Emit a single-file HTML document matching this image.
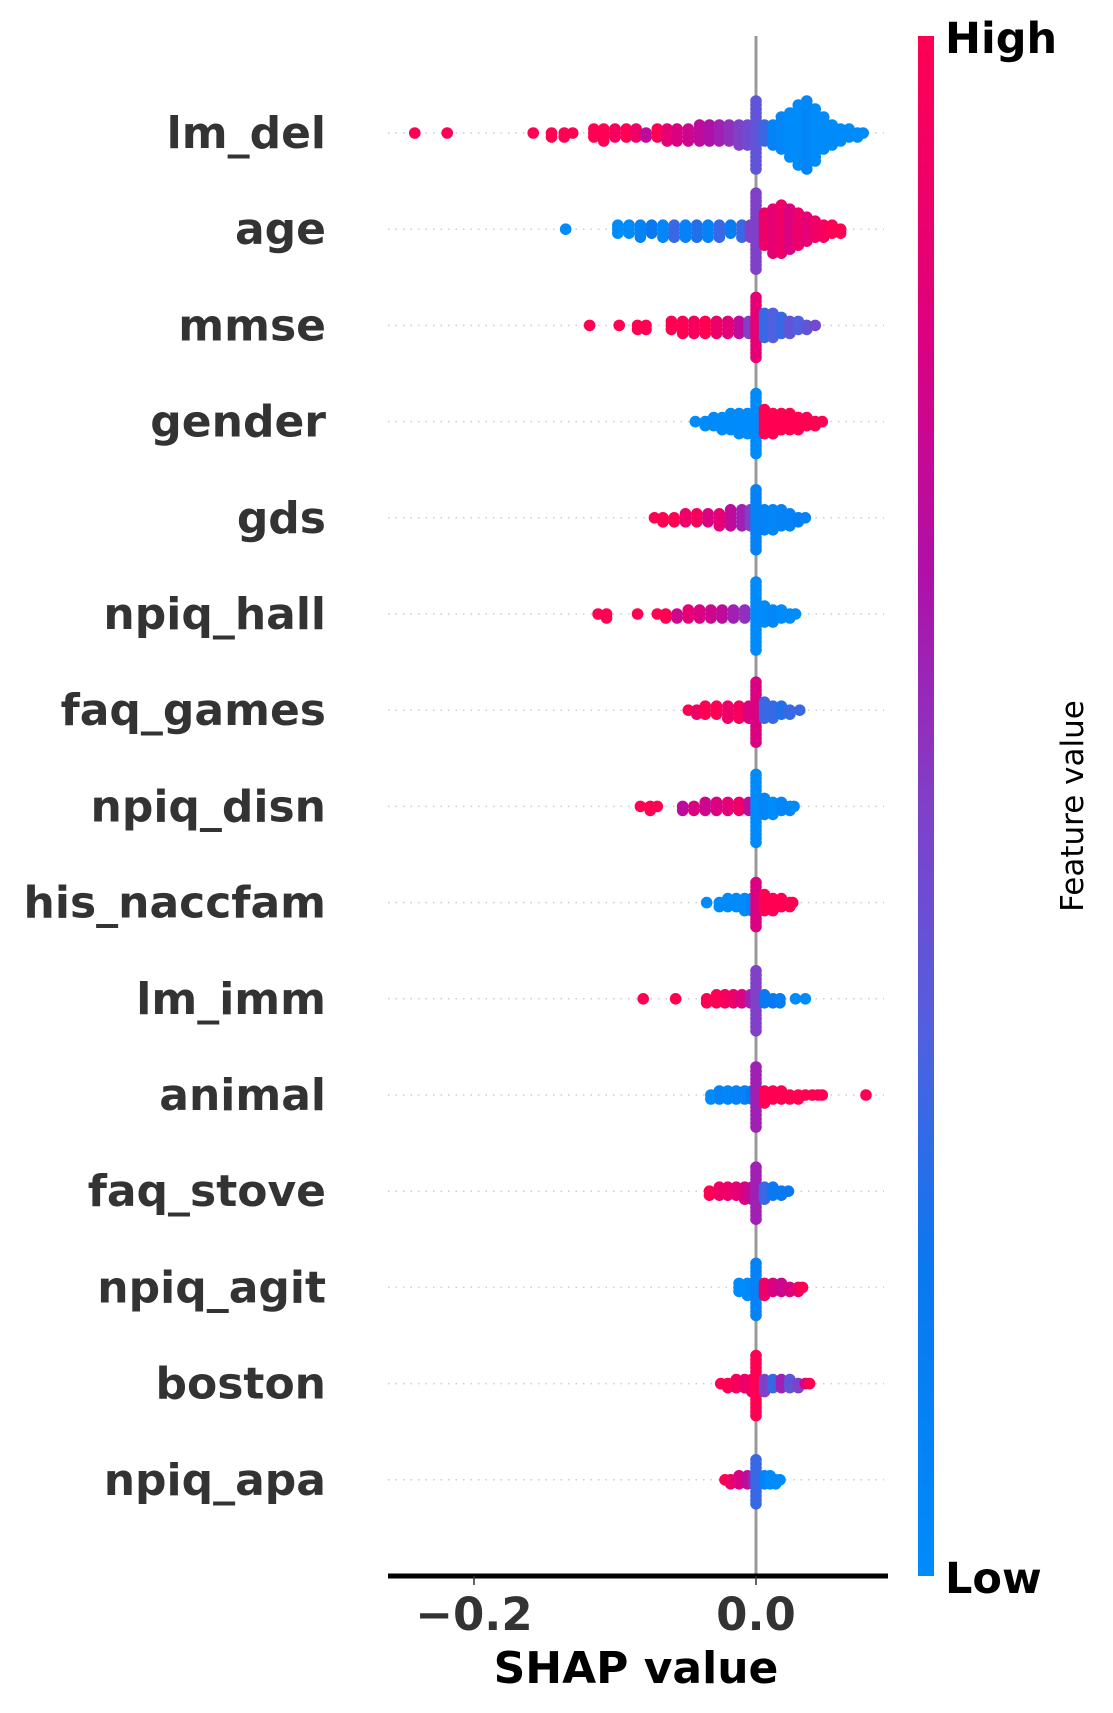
<!DOCTYPE html>
<html><head><meta charset="utf-8"><style>
html,body{margin:0;padding:0;background:#fff;}
svg{display:block;}
text{font-family:"DejaVu Sans","Liberation Sans",sans-serif;}
</style></head><body>
<svg id="chart" width="1113" height="1713" viewBox="0 0 1113 1713" xmlns="http://www.w3.org/2000/svg">
<defs><linearGradient id="cbgrad" x1="0" y1="1" x2="0" y2="0">
<stop offset="0" stop-color="#008bfb"/><stop offset="0.2" stop-color="#0a78f0"/><stop offset="0.35" stop-color="#5060e0"/><stop offset="0.5" stop-color="#8040c8"/><stop offset="0.65" stop-color="#b010a8"/><stop offset="0.82" stop-color="#e0007c"/><stop offset="1" stop-color="#ff0052"/></linearGradient></defs>
<g id="grid"></g>
<line x1="756" y1="36" x2="756" y2="1576" stroke="#999" stroke-width="3"/>
<g id="dots"></g>
<g id="labels"></g>
<line x1="388" y1="1576" x2="888" y2="1576" stroke="#000" stroke-width="5"/>
<g id="ticks"></g>
<text x="636" y="1683" font-size="44" font-weight="bold" fill="#000" text-anchor="middle">SHAP value</text>
<rect x="918" y="36" width="16" height="1540" fill="url(#cbgrad)"/>
<text x="945" y="53" font-size="43" font-weight="bold" fill="#000">High</text>
<text x="945" y="1593" font-size="43" font-weight="bold" fill="#000">Low</text>
<text x="1083" y="806" font-size="31" fill="#000" text-anchor="middle" transform="rotate(-90 1083 806)">Feature value</text>
</svg>
<script>
const features=["lm_del","age","mmse","gender","gds","npiq_hall","faq_games","npiq_disn","his_naccfam","lm_imm","animal","faq_stove","npiq_agit","boston","npiq_apa"];
const tickValues=[-0.2,0.0];
const tickLabels=["\u22120.2","0.0"];
// points: [shap value x1000, feature value 0..1, count]
const pts_lm_del=[[-242,1,1],[-219,1,1],[-158,1,1],[-145,1,2],[-136,1,2],[-130,1,1],[-115,1,3],[-108,1,4],[-100,.95,3],[-92,1,3],[-85,.9,3],[-78,.7,2],[-70,1,3],[-63,.85,4],[-56,.8,4],[-48,.75,4],[-40,.7,5],[-33,.65,5],[-26,.6,5],[-19,.55,5],[-12,.5,6],[-6,.45,6],[0,.4,18],[6,.3,5],[12,.1,6],[18,.05,9],[24,0,12],[30,0,16],[36,.05,18],[42,0,14],[48,0,9],[54,0,6],[60,0,4],[66,0,3],[72,0,2],[76,0,1]];
const pts_age=[[-135,0,1],[-98,0,3],[-90,0,3],[-82,.1,4],[-74,.2,3],[-66,.05,4],[-58,.3,4],[-50,.1,4],[-42,.25,4],[-34,.1,4],[-26,.3,4],[-18,.15,3],[-10,.3,4],[-4,.5,4],[0,.5,20],[6,.9,9],[12,.85,12],[18,.9,13],[24,.8,11],[30,.9,9],[36,.85,7],[42,.9,5],[48,.95,4],[54,1,3],[60,1,2]];
const pts_mmse=[[-118,1,1],[-97,1,1],[-84,1,2],[-78,1,2],[-60,1,3],[-52,1,4],[-44,.95,4],[-36,1,4],[-28,.9,4],[-20,.85,4],[-12,.7,4],[-5,.5,4],[0,.85,16],[6,.3,7],[12,.35,7],[18,.3,5],[24,.4,4],[30,.35,3],[36,.4,2],[42,.45,1]];
const pts_gender=[[-43,0,1],[-36,0,2],[-30,0,3],[-24,0,4],[-18,0,5],[-12,0,6],[-6,0,6],[0,0,16],[6,1,7],[12,1,6],[18,1,5],[24,1,5],[30,1,4],[36,1,3],[42,1,2],[47,1,1]];
const pts_gds=[[-72,1,1],[-66,1,2],[-58,1,2],[-50,.9,3],[-42,.95,3],[-34,.8,3],[-26,.85,4],[-18,.7,5],[-10,.6,5],[-4,.5,5],[0,.1,16],[6,.1,6],[12,.05,6],[18,.1,5],[24,.1,4],[30,.15,2],[35,.1,1]];
const pts_npiq_hall=[[-112,1,1],[-106,1,2],[-84,1,1],[-70,1,1],[-64,1,2],[-56,.75,2],[-48,.85,3],[-40,.8,3],[-32,.75,3],[-24,.7,3],[-16,.6,3],[-8,.55,3],[0,0,18],[6,0,5],[12,.05,4],[18,0,3],[24,0,2],[28,0,1]];
const pts_faq_games=[[-48,1,1],[-42,.9,2],[-36,1,3],[-28,1,3],[-20,.9,4],[-12,.95,4],[-5,.8,4],[0,.8,16],[6,.3,5],[12,.3,4],[18,.25,3],[24,.3,2],[31,.3,1]];
const pts_npiq_disn=[[-82,1,1],[-75,1,2],[-70,1,1],[-52,.7,2],[-44,.8,2],[-36,.75,3],[-28,.8,3],[-20,.85,3],[-12,.9,3],[-5,.7,3],[0,0,18],[6,.05,5],[12,0,4],[18,.05,3],[24,.05,2],[27,0,1]];
const pts_his_naccfam=[[-35,0,1],[-26,0,2],[-20,0,3],[-14,0,3],[-8,0,4],[-3,.1,4],[0,.8,12],[6,1,5],[12,1,4],[18,1,3],[24,1,2],[26,1,1]];
const pts_lm_imm=[[-80,1,1],[-57,1,1],[-35,1,2],[-28,1,3],[-22,.95,3],[-16,.9,3],[-10,.8,3],[-4,.6,3],[0,.5,16],[6,.2,3],[12,.2,2],[17,.15,2],[28,0,1],[35,0,1]];
const pts_animal=[[-32,0,2],[-26,.1,3],[-20,.05,3],[-14,.1,3],[-8,.1,3],[-3,.2,3],[0,.6,16],[6,1,4],[12,1,3],[18,1,3],[24,1,2],[30,1,2],[35,1,1],[40,1,1],[44,1,1],[47,1,1],[78,1,1]];
const pts_faq_stove=[[-33,1,2],[-26,.9,3],[-20,.9,3],[-14,.85,3],[-8,.8,4],[-3,.7,4],[0,.6,14],[6,.3,4],[12,.2,3],[18,.2,2],[23,.2,1]];
const pts_npiq_agit=[[-12,0,3],[-6,0,4],[-2,0,4],[0,.1,14],[6,.9,4],[12,.8,3],[18,.75,3],[24,.8,2],[30,.9,2],[33,1,1]];
const pts_boston=[[-25,1,1],[-20,1,2],[-14,.95,3],[-8,.9,3],[-3,.9,4],[0,1,16],[6,.5,4],[12,.3,3],[18,.6,3],[24,.4,3],[30,.5,2],[35,.8,1],[38,1,1]];
const pts_npiq_apa=[[-22,1,1],[-18,.9,2],[-12,.8,3],[-6,.7,3],[-2,.6,3],[0,.3,12],[6,.1,3],[10,0,3],[14,0,2],[17,0,1]];
const rows=[pts_lm_del,pts_age,pts_mmse,pts_gender,pts_gds,pts_npiq_hall,pts_faq_games,pts_npiq_disn,pts_his_naccfam,pts_lm_imm,pts_animal,pts_faq_stove,pts_npiq_agit,pts_boston,pts_npiq_apa];

const NS="http://www.w3.org/2000/svg";
function xScale(v){return 756+v*1410;}
function yScale(i){return 133+i*96.2;}
const stops=[[0,[0,139,251]],[0.2,[10,120,240]],[0.35,[80,96,224]],[0.5,[128,64,200]],[0.65,[176,16,168]],[0.82,[224,0,124]],[1,[255,0,82]]];
function color(f){for(let k=1;k<stops.length;k++){if(f<=stops[k][0]){const a=stops[k-1],b=stops[k];const t=(f-a[0])/(b[0]-a[0]);const c=a[1].map((v,j)=>Math.round(v+(b[1][j]-v)*t));return `rgb(${c[0]},${c[1]},${c[2]})`;}}return "rgb(255,0,82)";}
function mk(tag,attrs,parent){const e=document.createElementNS(NS,tag);for(const k in attrs)e.setAttribute(k,attrs[k]);parent.appendChild(e);return e;}
const grid=document.getElementById('grid'),dots=document.getElementById('dots'),labels=document.getElementById('labels'),ticks=document.getElementById('ticks');
features.forEach((name,i)=>{
  const y=yScale(i);
  const g=mk('line',{x1:388,x2:884,y1:y,y2:y,stroke:'#ccc','stroke-width':1.5,'stroke-dasharray':'1.5 6'},grid);
  
  
  const t=mk('text',{x:326,y:y+15,'font-size':44,'font-weight':'bold',fill:'#333','text-anchor':'end'},labels);
  t.textContent=name;
  
  
  const pts=rows[i];
  pts.forEach(p=>{
    const cx=xScale(p[0]/1000);
    for(let k=0;k<p[2];k++){
      const off=(k===0)?0:(k%2===1?1:-1)*Math.ceil(k/2)*4;
      const c=mk('circle',{cx:cx,cy:y+off,r:5.8,fill:color(p[1])},dots);
      
      
    }
  });
});
tickValues.forEach((v,i)=>{
  const x=xScale(v);
  const l=mk('line',{x1:x,x2:x,y1:1576,y2:1585,stroke:'#333','stroke-width':1.5},ticks);
  
  
  const t=mk('text',{x:x,y:1630,'font-size':45,'font-weight':'bold',fill:'#333','text-anchor':'middle'},ticks);
  t.textContent=tickLabels[i];
  
  
});
</script>
</body></html>
